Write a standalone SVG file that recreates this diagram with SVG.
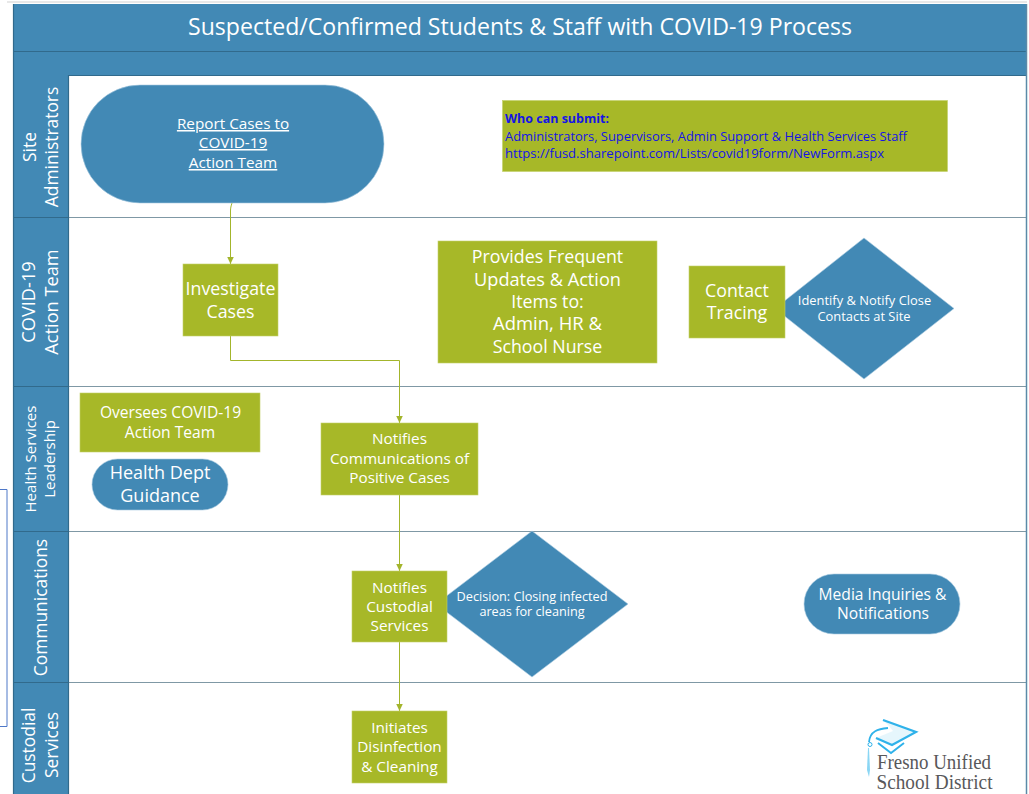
<svg xmlns="http://www.w3.org/2000/svg" width="1029" height="794" viewBox="0 0 1029 794">
<style>
text{font-family:"Open Sans","Noto Sans",sans-serif;text-anchor:middle}
.w{fill:#fff}
.blue{fill:#4289b5;stroke:#a9cbe0;stroke-width:.6}
.green{fill:#a7b828;stroke:#c3d06a;stroke-width:.6}
.band{fill:#4289b5}
.sep{stroke:#316a8c;stroke-width:1.2;fill:none}
.lane{stroke:#7f98a5;stroke-width:1;fill:none}
.conn{stroke:#a3b52c;stroke-width:1;fill:none;marker-end:url(#a)}
.s15{font-size:15.300px}.s17{font-size:17.800px}.s13{font-size:12.900px}
.lb{font-size:17.400px;fill:#fff}
.lc{font-size:18.200px;fill:#fff}
.lbs{font-size:15px;fill:#fff}
.st{text-anchor:start;font-size:13px;fill:#1414e6}
.l{font-family:"Liberation Serif",serif;font-size:20px;fill:#58585a;text-anchor:start}
.cap{fill:none;stroke:#2fb2ea;stroke-linejoin:miter}
</style>
<defs>
<marker id="a" markerWidth="8" markerHeight="7" refX="7.500" refY="3.500" orient="auto" markerUnits="userSpaceOnUse"><path d="M0,0L7.500,3.500L0,7Z" fill="#a3b52c"/></marker>
</defs>
<rect width="1029" height="794" fill="#fff"/>
<path d="M7,2H1027" stroke="#e8e8e8" stroke-width="2"/>
<g id="outer-note"><path d="M0,489.500H7V726.500H0" fill="none" stroke="#4f78c8" stroke-width="1"/></g>
<g id="header">
<rect class="band" x="13" y="4" width="1014" height="71"/>
<path class="sep" d="M13,51.500H1027M13,75.500H1027"/>
<text class="w" x="520" y="35" font-size="23.200" textLength="664" lengthAdjust="spacingAndGlyphs">Suspected/Confirmed Students &amp; Staff with COVID-19 Process</text>
</g>
<g id="lanes">
<rect class="band" x="13" y="75" width="55" height="719"/>
<path class="lane" d="M68,217.500H1027M68,386.500H1027M68,531.500H1027M68,682.500H1027"/>
<path class="sep" d="M13,217.500H68M13,386.500H68M13,531.500H68M13,682.500H68M68.500,75V794M13.500,4V794"/>
<path d="M1026.500,4V794" stroke="#5b8aa8" stroke-width="1.500"/>
<text class="lb" transform="translate(36,147) rotate(-90)">Site</text>
<text class="lb" transform="translate(58,147) rotate(-90)">Administrators</text>
<text class="lc" transform="translate(35,302) rotate(-90)">COVID-19</text>
<text class="lc" transform="translate(58,302) rotate(-90)">Action Team</text>
<text class="lbs" transform="translate(36,459) rotate(-90)">Health Services</text>
<text class="lbs" transform="translate(55,459) rotate(-90)">Leadership</text>
<text class="lb" transform="translate(47,607.500) rotate(-90)">Communications</text>
<text class="lb" transform="translate(35,745.500) rotate(-90)">Custodial</text>
<text class="lb" transform="translate(58,745) rotate(-90)">Services</text>
</g>
<g id="connectors">
<path class="conn" d="M232,203C231,206 230.500,208 230.500,211V264"/>
<path class="conn" d="M230.500,336V360.500H399.500V423"/>
<path class="conn" d="M399.500,495V571"/>
<path class="conn" d="M399.500,642V711"/>
</g>
<g id="report-cases">
<rect class="blue" x="81" y="85" width="303" height="118" rx="59"/>
<g class="w s15" text-decoration="underline"><text x="233" y="129">Report Cases to</text><text x="233" y="148">COVID-19</text><text x="233" y="168">Action Team</text></g>
</g>
<g id="who-can-submit">
<rect class="green" x="502.500" y="100.500" width="445" height="71"/>
<text class="st" x="505" y="123" font-weight="700" textLength="104" lengthAdjust="spacingAndGlyphs">Who can submit:</text>
<text class="st" x="505" y="141" textLength="402" lengthAdjust="spacingAndGlyphs">Administrators, Supervisors, Admin Support &amp; Health Services Staff</text>
<text class="st" x="505" y="158" textLength="379" lengthAdjust="spacingAndGlyphs">https://fusd.sharepoint.com/Lists/covid19form/NewForm.aspx</text>
</g>
<g id="investigate-cases">
<rect class="green" x="183" y="264" width="95" height="72"/>
<g class="w s17"><text x="230.500" y="295">Investigate</text><text x="230.500" y="318">Cases</text></g>
</g>
<g id="provides-updates">
<rect class="green" x="438" y="241" width="219" height="122"/>
<g class="w s17"><text x="547.500" y="263">Provides Frequent</text><text x="547.500" y="285.500" textLength="147" lengthAdjust="spacingAndGlyphs">Updates &amp; Action</text><text x="547.500" y="308">Items to:</text><text x="547.500" y="330" textLength="109" lengthAdjust="spacingAndGlyphs">Admin, HR &amp;</text><text x="547.500" y="353">School Nurse</text></g>
</g>
<g id="identify-notify">
<path class="blue" d="M864,238L954,308.500L864,379L775,308.500Z"/>
<g class="w s13"><text x="864.500" y="305">Identify &amp; Notify Close</text><text x="864" y="321">Contacts at Site</text></g>
</g>
<g id="contact-tracing">
<rect class="green" x="689" y="266" width="96" height="72"/>
<g class="w s17"><text x="737" y="297">Contact</text><text x="737" y="319">Tracing</text></g>
</g>
<g id="oversees">
<rect class="green" x="80" y="393" width="180" height="59"/>
<g class="w" font-size="15.600"><text x="170.500" y="418">Oversees COVID-19</text><text x="170" y="437.500">Action Team</text></g>
</g>
<g id="health-dept">
<rect class="blue" x="92" y="459" width="136" height="51" rx="25.500"/>
<g class="w" font-size="18"><text x="160" y="479">Health Dept</text><text x="160" y="502">Guidance</text></g>
</g>
<g id="notifies-comms">
<rect class="green" x="321" y="423" width="157" height="72"/>
<g class="w s15"><text x="399.500" y="444">Notifies</text><text x="399.500" y="464">Communications of</text><text x="399.500" y="483">Positive Cases</text></g>
</g>
<g id="decision">
<path class="blue" d="M532,531L628,604L532,677L436,604Z"/>
<g class="w" font-size="12.700"><text x="532" y="600.500">Decision: Closing infected</text><text x="532" y="616">areas for cleaning</text></g>
</g>
<g id="notifies-custodial">
<rect class="green" x="352" y="571" width="95" height="71"/>
<g class="w s15"><text x="399.500" y="592.500">Notifies</text><text x="399.500" y="611.500">Custodial</text><text x="399.500" y="631">Services</text></g>
</g>
<g id="media">
<rect class="blue" x="804" y="574" width="156" height="60" rx="30"/>
<g class="w" font-size="15.600"><text x="882.500" y="600">Media Inquiries &amp;</text><text x="883" y="619">Notifications</text></g>
</g>
<g id="initiates">
<rect class="green" x="352" y="711" width="95" height="72"/>
<g class="w s15"><text x="399.500" y="733">Initiates</text><text x="399.500" y="752">Disinfection</text><text x="399.500" y="771.500">&amp; Cleaning</text></g>
</g>
<g id="logo">
<path d="M883,720L917,732L892,745L876,738L893,731L889,726Z" fill="#2fb2ea" fill-opacity=".12"/>
<path class="cap" stroke-width="2.200" d="M883,720L916,732L892,745L876,738"/>
<path class="cap" stroke-width="2" d="M878,743L891,753L904,743"/>
<path class="cap" stroke-width="1.800" d="M888,728C878,729 870,731 869,742"/>
<circle cx="870" cy="744.500" r="2" fill="none" stroke="#2fb2ea"/>
<path d="M868,748L867,770L869,777L870,770L869,748Z" fill="#8ad6f4"/>
<text class="l" x="877" y="769" textLength="114" lengthAdjust="spacingAndGlyphs">Fresno Unified</text>
<text class="l" x="876.500" y="789" textLength="116" lengthAdjust="spacingAndGlyphs">School District</text>
</g>
</svg>
